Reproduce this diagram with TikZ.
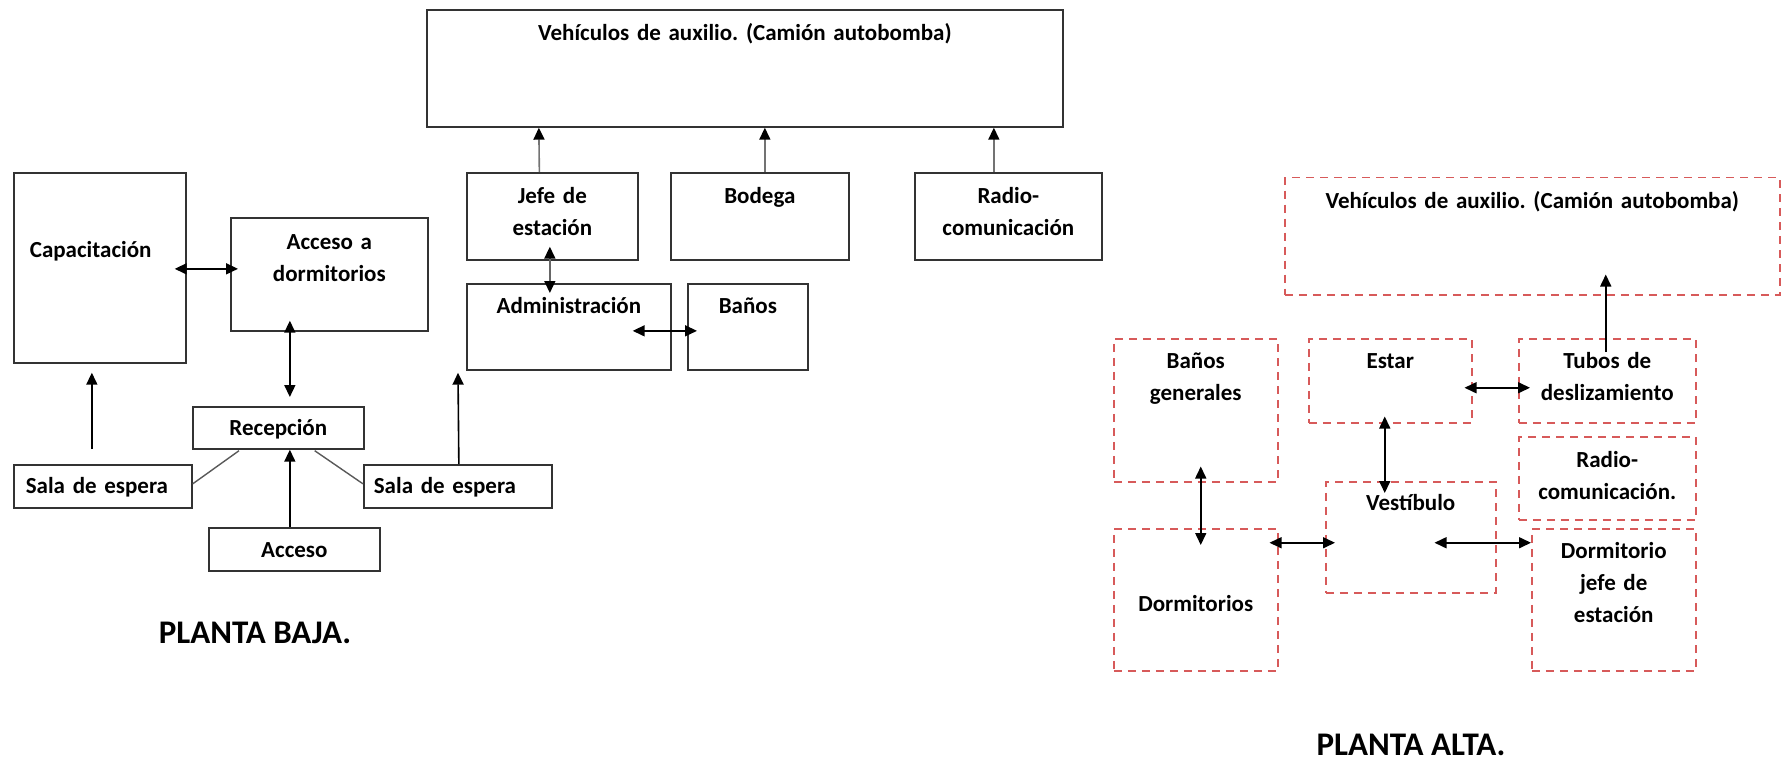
\documentclass[tikz,border=0pt]{standalone}
\usepackage{fontspec}
\setmainfont{Carlito}
\usepackage{tikz}
\usetikzlibrary{arrows.meta}
\definecolor{planred}{RGB}{215,90,90}
\frenchspacing

\begin{document}
\begin{tikzpicture}[x=1pt, y=-1pt,
    room/.style={draw=black!80, line width=1.7pt, inner sep=0pt, align=center, anchor=north west, font=\bfseries\fontsize{23}{32}\selectfont},
    plan/.style={room, draw=planred, line width=1.5pt, dash pattern=on 8pt off 6pt},
    flow/.style={line width=1.6pt, -{Triangle[length=12pt, width=11pt, color=black]}},
    twoway/.style={line width=1.6pt, {Triangle[length=12pt, width=11pt, color=black]}-{Triangle[length=12pt, width=11pt, color=black]}},
    plantitle/.style={anchor=base, font=\bfseries\fontsize{33}{40}\selectfont}]
      \useasboundingbox (0,0) rectangle (1783,762);

      \node[room, text width=636pt, text height=31pt, text depth=86pt] (veh) at (426,9) {Vehículos de auxilio. (Camión autobomba)};
      \node[room, text width=171pt, text height=31pt, text depth=56pt] (jefe) at (466,172) {Jefe de\\estación};
      \node[room, text width=178pt, text height=31pt, text depth=56pt] (bod) at (670,172) {Bodega};
      \node[room, text width=187pt, text height=31pt, text depth=56pt] (radio) at (914,172) {Radio-\\comunicación};
      \node[room, align=left, inner xsep=16pt, text width=140pt, text height=85pt, text depth=105pt] (cap) at (13,172) {Capacitación};
      \node[room, text width=197pt, text height=32pt, text depth=81pt] (acc) at (230,217) {Acceso a\\dormitorios};
      \node[room, text width=204pt, text height=30pt, text depth=56pt] (adm) at (466,283) {Administración};
      \node[room, text width=120pt, text height=30pt, text depth=56pt] (ban) at (687,283) {Baños};
      \node[room, text width=171pt, text height=29pt, text depth=13pt] (rec) at (192,406) {Recepción};
      \node[room, align=left, inner xsep=12pt, text width=154pt, text height=29pt, text depth=14pt] (sala1) at (13,464) {Sala de espera};
      \node[room, align=left, inner xsep=10pt, text width=168pt, text height=29pt, text depth=14pt] (sala2) at (363,464) {Sala de espera};
      \node[room, text width=171pt, text height=30pt, text depth=13pt] (acs) at (208,527) {Acceso};

      \draw[flow, draw=black!55] ([shift={(-13,0)}]jefe.north) -- ([shift={(-206,0)}]veh.south);
      \draw[flow, draw=black!55] ([shift={(5,0)}]bod.north) -- ([shift={(20,0)}]veh.south);
      \draw[flow, draw=black!55] ([shift={(-14.5,0)}]radio.north) -- ([shift={(249,0)}]veh.south);
      \draw[twoway, draw=black!60] ([shift={(-2.5,-14)}]jefe.south) -- ([shift={(-19,10)}]adm.north);
      \draw[twoway] ([shift={(-39,4)}]adm.east) -- ([shift={(10,4)}]ban.west);
      \draw[twoway] ([shift={(-12,1)}]cap.east) -- ([shift={(8,-5.5)}]acc.west);
      \draw[twoway] ([shift={(-39.5,-11)}]acc.south) -- ([shift={(11.5,-9)}]rec.north);
      \draw[flow] ([shift={(-4.5,0)}]acs.north) -- ([shift={(11.5,0)}]rec.south);
      \draw[flow] ([shift={(-11,-15)}]sala1.north) -- ([shift={(-8,9)}]cap.south);
      \draw[flow] ([shift={(1,0)}]sala2.north) -- ([shift={(-8,2)}]adm.south west);
      \draw[black!65, line width=1.4pt] ([shift={(47,1)}]rec.south west) -- ([shift={(0,-2.5)}]sala1.east);
      \draw[black!65, line width=1.4pt] ([shift={(-50,1)}]rec.south east) -- ([shift={(0,-2.5)}]sala2.west);

      \node[plan, text width=495pt, text height=31pt, text depth=86pt] (veh2) at (1284,177) {Vehículos de auxilio. (Camión autobomba)};
      \node[plan, text width=164pt, text height=30pt, text depth=113pt] (bgen) at (1113,338) {Baños\\generales};
      \node[plan, text width=163pt, text height=30pt, text depth=54pt] (est) at (1308,338) {Estar};
      \node[plan, text width=177pt, text height=30pt, text depth=54pt] (tub) at (1518,338) {Tubos de\\deslizamiento};
      \node[plan, text width=177pt, text height=31pt, text depth=52pt] (rad2) at (1518,436) {Radio-\\comunicación.};
      \node[plan, text width=170pt, text height=29pt, text depth=82pt] (ves) at (1325,481) {Vestíbulo};
      \node[plan, text width=164pt, text height=83pt, text depth=59pt] (dorm) at (1113,528) {Dormitorios};
      \node[plan, text width=164pt, text height=30pt, text depth=112pt] (djefe) at (1531,528) {Dormitorio\\jefe de\\estación};

      \draw[flow] ([shift={(-1.5,14)}]tub.north) -- ([shift={(73.5,-21)}]veh2.south);
      \draw[twoway] ([shift={(-8,7)}]est.east) -- ([shift={(12,7)}]tub.west);
      \draw[twoway] ([shift={(-5.5,-7)}]est.south) -- ([shift={(-26,12)}]ves.north);
      \draw[twoway] ([shift={(5,-16)}]bgen.south) -- ([shift={(5,17)}]dorm.north);
      \draw[twoway] ([shift={(-9,-57)}]dorm.east) -- ([shift={(10,5.5)}]ves.west);
      \draw[twoway] ([shift={(-62,5.5)}]ves.east) -- ([shift={(0,-57)}]djefe.west);

      \node[plantitle] (baja) at (255,643) {PLANTA BAJA.};
      \node[plantitle] (alta) at (1411,755) {PLANTA ALTA.};
\end{tikzpicture}
\end{document}
